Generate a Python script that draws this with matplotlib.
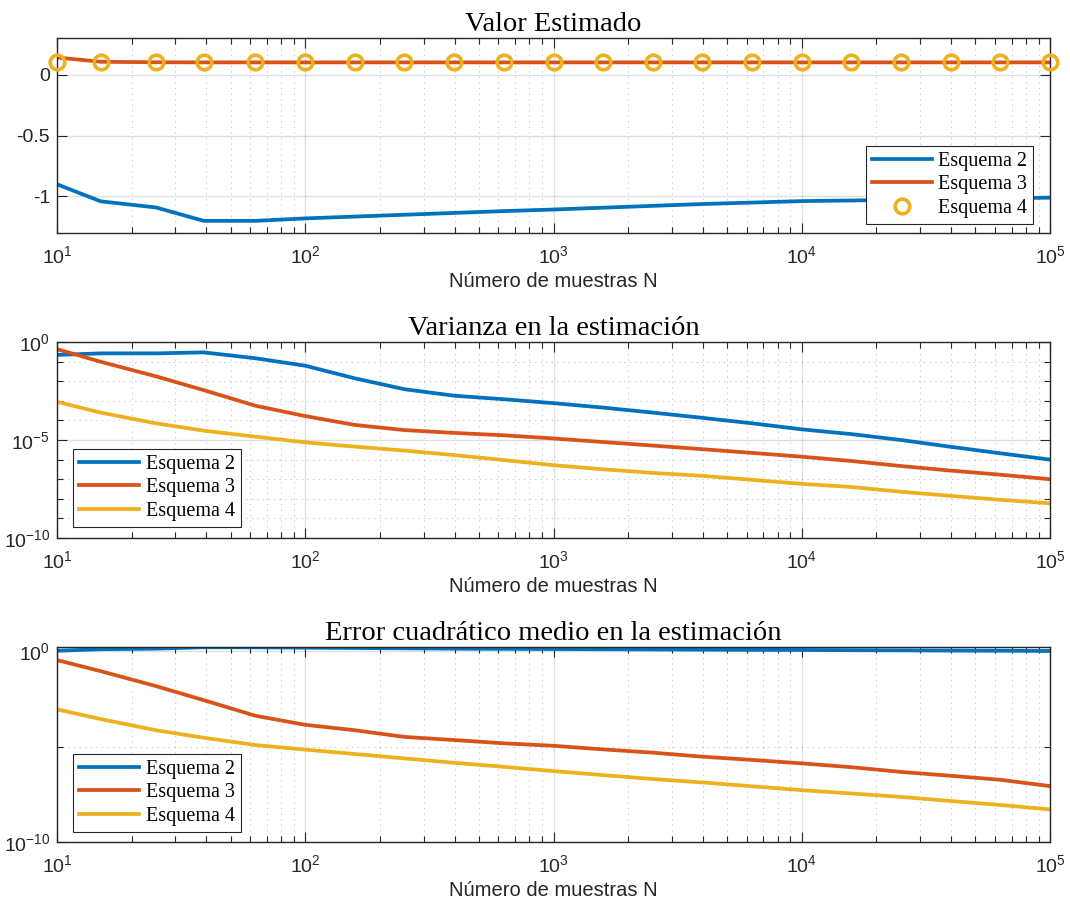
import matplotlib
matplotlib.use("Agg")
import matplotlib.pyplot as plt
from matplotlib.ticker import FixedLocator, NullFormatter, LogLocator

plt.rcParams['font.family'] = ['Liberation Sans', 'DejaVu Sans']
plt.rcParams['mathtext.default'] = 'regular'
plt.rcParams['axes.unicode_minus'] = False

# numero de muestras
N = [10, 15, 25, 39, 63, 100, 158, 251, 398, 630, 1000, 1584, 2511, 3981,
     6309, 10000, 15848, 25118, 39810, 63095, 100000]

# valor estimado
est2 = [-0.90, -1.04, -1.09, -1.20, -1.20, -1.18, -1.165, -1.15, -1.135, -1.12,
        -1.107, -1.092, -1.077, -1.062, -1.05, -1.038, -1.033, -1.027, -1.021,
        -1.015, -1.01]
est3 = [0.14, 0.105, 0.101, 0.10, 0.10, 0.10, 0.10, 0.10, 0.10, 0.10, 0.10,
        0.10, 0.10, 0.10, 0.10, 0.10, 0.10, 0.10, 0.10, 0.10, 0.10]
est4 = [0.10, 0.10, 0.10, 0.10, 0.10, 0.10, 0.10, 0.10, 0.10, 0.10, 0.10,
        0.10, 0.10, 0.10, 0.10, 0.10, 0.10, 0.10, 0.10, 0.10, 0.10]

# varianza
var2 = [0.219, 0.263, 0.263, 0.295, 0.148, 0.0617, 0.0141, 3.9e-3, 1.82e-3,
        1.2e-3, 7.6e-4, 4.5e-4, 2.5e-4, 1.35e-4, 7.1e-5, 3.5e-5, 2.0e-5,
        1.0e-5, 4.5e-6, 2.1e-6, 1.0e-6]
var3 = [0.43, 0.098, 0.0178, 3.5e-3, 5.6e-4, 1.66e-4, 5.9e-5, 3.2e-5, 2.3e-5,
        1.74e-5, 1.2e-5, 7.9e-6, 5.2e-6, 3.4e-6, 2.2e-6, 1.41e-6, 8.5e-7,
        4.7e-7, 2.75e-7, 1.7e-7, 1.0e-7]
var4 = [8.9e-4, 2.5e-4, 7.1e-5, 3.0e-5, 1.48e-5, 7.6e-6, 4.6e-6, 2.9e-6,
        1.7e-6, 9.5e-7, 5.2e-7, 3.2e-7, 2.1e-7, 1.48e-7, 9.3e-8, 5.8e-8,
        4.0e-8, 2.3e-8, 1.41e-8, 8.9e-9, 5.9e-9]

# error cuadratico medio
ecm2 = [1.05, 1.26, 1.35, 1.60, 1.58, 1.52, 1.46, 1.41, 1.35, 1.32, 1.29,
        1.26, 1.23, 1.20, 1.17, 1.15, 1.12, 1.10, 1.07, 1.05, 1.02]
ecm3 = [0.34, 0.089, 0.0148, 2.7e-3, 4.1e-4, 1.38e-4, 7.2e-5, 3.2e-5, 2.2e-5,
        1.48e-5, 1.1e-5, 7.1e-6, 4.8e-6, 2.95e-6, 2.0e-6, 1.32e-6, 8.3e-7,
        4.7e-7, 2.95e-7, 1.82e-7, 8.5e-8]
ecm4 = [8.9e-4, 2.75e-4, 7.2e-5, 2.9e-5, 1.2e-5, 6.9e-6, 4.1e-6, 2.4e-6,
        1.41e-6, 8.7e-7, 5.2e-7, 3.2e-7, 2.0e-7, 1.32e-7, 8.3e-8, 5.2e-8,
        3.5e-8, 2.3e-8, 1.41e-8, 8.7e-9, 5.1e-9]

labels = ["Esquema 2", "Esquema 3", "Esquema 4"]
xticks = [1e1, 1e2, 1e3, 1e4, 1e5]
xticklabels = ["$10^{1}$", "$10^{2}$", "$10^{3}$", "$10^{4}$", "$10^{5}$"]

c_blue = "#0072BD"
c_orange = "#D95319"
c_yellow = "#EDB120"
axcol = "#262626"
serif = ['Liberation Serif', 'DejaVu Serif']

fig = plt.figure(figsize=(10.7, 9.05), dpi=100)
ax1 = fig.add_axes([0.0533, 0.7425, 0.928, 0.2155])
ax2 = fig.add_axes([0.0533, 0.4055, 0.928, 0.2166])
ax3 = fig.add_axes([0.0533, 0.0696, 0.928, 0.2155])


def style(ax, title):
    ax.set_xscale('log')
    ax.set_xlim(10, 1e5)
    ax.set_xticks(xticks)
    ax.set_xticklabels(xticklabels)
    ax.xaxis.set_minor_locator(LogLocator(base=10, subs=range(2, 10)))
    ax.xaxis.set_minor_formatter(NullFormatter())
    ax.tick_params(which='both', direction='in', top=True, right=True,
                   colors=axcol, labelsize=14, width=0.8)
    ax.tick_params(which='major', length=7)
    ax.tick_params(which='minor', length=4)
    ax.tick_params(axis='x', which='major', pad=9)
    ax.tick_params(axis='y', which='major', pad=5)
    for s in ax.spines.values():
        s.set_color(axcol)
        s.set_linewidth(1.0)
    ax.grid(True, which='major', color=axcol, alpha=0.15, lw=1.0, ls='-')
    ax.grid(True, which='minor', color=axcol, alpha=0.28, lw=0.8, ls=(0, (1, 4)))
    ax.set_axisbelow(True)
    ax.set_title(title, family=serif, fontsize=20.5, color='black', pad=5)
    ax.set_xlabel("Número de muestras N", fontsize=14.5, color=axcol, labelpad=3)


def legend(ax, loc, anchor):
    leg = ax.legend(loc=loc, bbox_to_anchor=anchor, prop={'family': serif, 'size': 14.5},
                    fancybox=False, framealpha=1, edgecolor=axcol, handlelength=3.0,
                    handletextpad=0.3, labelspacing=0.22, borderpad=0.3,
                    borderaxespad=0)
    leg.get_frame().set_linewidth(0.8)


# Valor estimado
ax1.plot(N, est2, color=c_blue, lw=2.7, label=labels[0])
ax1.plot(N, est3, color=c_orange, lw=2.7, label=labels[1])
ax1.plot(N, est4, ls='none', marker='o', ms=10.5, mfc='none', mec=c_yellow,
         mew=2.6, label=labels[2], clip_on=False, zorder=5)
style(ax1, "Valor Estimado")
ax1.set_ylim(-1.3, 0.3)
ax1.set_yticks([-1, -0.5, 0])
ax1.set_yticklabels(["-1", "-0.5", "0"])
ax1.yaxis.set_minor_locator(FixedLocator([]))
legend(ax1, 'lower right', (0.983, 0.046))

# Varianza
ax2.plot(N, var2, color=c_blue, lw=2.7, label=labels[0])
ax2.plot(N, var3, color=c_orange, lw=2.7, label=labels[1])
ax2.plot(N, var4, color=c_yellow, lw=2.7, label=labels[2])
style(ax2, "Varianza en la estimación")
ax2.set_yscale('log')
ax2.set_ylim(1e-10, 1)
ax2.yaxis.set_major_locator(FixedLocator([1e-10, 1e-5, 1]))
ax2.set_yticklabels(["$10^{-10}$", "$10^{-5}$", "$10^{0}$"])
ax2.yaxis.set_minor_locator(FixedLocator([1e-9, 1e-8, 1e-7, 1e-6, 1e-4, 1e-3, 1e-2, 1e-1]))
ax2.yaxis.set_minor_formatter(NullFormatter())
legend(ax2, 'lower left', (0.0161, 0.056))

# Error cuadratico medio
ax3.plot(N, ecm2, color=c_blue, lw=2.7, label=labels[0])
ax3.plot(N, ecm3, color=c_orange, lw=2.7, label=labels[1])
ax3.plot(N, ecm4, color=c_yellow, lw=2.7, label=labels[2])
style(ax3, "Error cuadrático medio en la estimación")
ax3.set_yscale('log')
ax3.set_ylim(1e-10, 1.65)
ax3.yaxis.set_major_locator(FixedLocator([1e-10, 1]))
ax3.set_yticklabels(["$10^{-10}$", "$10^{0}$"])
ax3.yaxis.set_minor_locator(FixedLocator([1e-5]))
ax3.yaxis.set_minor_formatter(NullFormatter())
legend(ax3, 'lower left', (0.0161, 0.051))

fig.savefig("out.png", dpi=100)
